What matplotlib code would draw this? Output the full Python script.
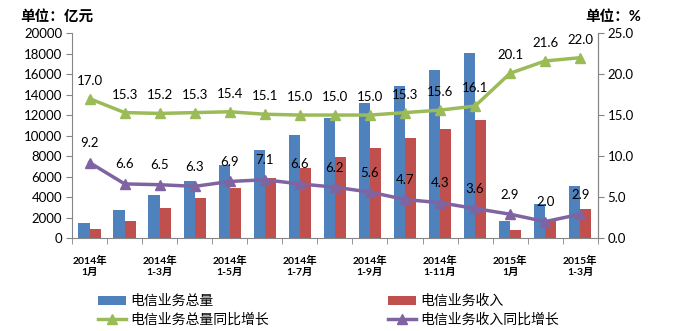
import matplotlib as mpl
mpl.rcParams['font.family'] = ['Lato', 'Noto Sans CJK SC', 'DejaVu Sans']
import matplotlib.pyplot as plt
from matplotlib.ticker import MultipleLocator, FixedLocator
import numpy as np

# Data
months = ['2014年\n1月', '2014年\n1-2月', '2014年\n1-3月', '2014年\n1-4月', '2014年\n1-5月',
          '2014年\n1-6月', '2014年\n1-7月', '2014年\n1-8月', '2014年\n1-9月', '2014年\n1-10月',
          '2014年\n1-11月', '2014年\n1-12月', '2015年\n1月', '2015年\n1-2月', '2015年\n1-3月']
volume = [1450, 2700, 4200, 5600, 7100, 8600, 10100, 11700, 13200, 14800, 16400, 18100, 1700, 3300, 5100]
revenue = [900, 1700, 2900, 3900, 4900, 5900, 6800, 7900, 8800, 9800, 10600, 11500, 800, 1700, 2800]
volume_growth = [17.0, 15.3, 15.2, 15.3, 15.4, 15.1, 15.0, 15.0, 15.0, 15.3, 15.6, 16.1, 20.1, 21.6, 22.0]
revenue_growth = [9.2, 6.6, 6.5, 6.3, 6.9, 7.1, 6.6, 6.2, 5.6, 4.7, 4.3, 3.6, 2.9, 2.0, 2.9]

blue = '#4F81BD'
red = '#C0504D'
green = '#9BBB59'
purple = '#8064A2'
gray = '#868686'

x = np.arange(len(months))
w = 0.32

fig = plt.figure(figsize=(6.8, 3.31), dpi=100)
ax = fig.add_axes([0.106, 0.281, 0.773, 0.619])
b1 = ax.bar(x - w/2, volume, width=w, color=blue, label='电信业务总量', zorder=2)
b2 = ax.bar(x + w/2, revenue, width=w, color=red, label='电信业务收入', zorder=2)
ax.set_xlim(-0.5, len(months) - 0.5)
ax.set_ylim(0, 20000)
ax.yaxis.set_major_locator(MultipleLocator(2000))
ax.set_xticks(x[::2])
ax.set_xticklabels(months[::2], fontsize=7.5, fontweight='bold', linespacing=1.25)
ax.xaxis.set_minor_locator(FixedLocator(np.arange(-0.5, len(months), 1)))
ax.tick_params(axis='x', which='major', length=0, pad=13)
ax.tick_params(axis='x', which='minor', length=4, color=gray, direction='out')
ax.tick_params(axis='y', length=4, color=gray, direction='out', labelsize=9.5, pad=3)
ax.spines['top'].set_visible(False)
for s in ['left', 'bottom', 'right']:
    ax.spines[s].set_color(gray)

ax2 = ax.twinx()
l1, = ax2.plot(x, volume_growth, '-^', color=green, lw=2.5, markersize=7.5, label='电信业务总量同比增长', zorder=3)
l2, = ax2.plot(x, revenue_growth, '-^', color=purple, lw=2.5, markersize=7.5, label='电信业务收入同比增长', zorder=3)
ax2.set_ylim(0, 25)
ax2.yaxis.set_major_locator(MultipleLocator(5))
ax2.yaxis.set_major_formatter(mpl.ticker.FormatStrFormatter('%.1f'))
ax2.tick_params(axis='y', length=4, color=gray, direction='out', labelsize=9.5, pad=3)
ax2.spines['top'].set_visible(False)
ax2.spines['right'].set_color(gray)
ax2.spines['left'].set_visible(False)
ax2.spines['bottom'].set_visible(False)

for xi, v in zip(x, volume_growth):
    ax2.annotate('%.1f' % v, (xi, v), xytext=(0, 13), textcoords='offset points',
                 ha='center', va='center', fontsize=9.5)
for xi, v in zip(x, revenue_growth):
    ax2.annotate('%.1f' % v, (xi, v), xytext=(0, 14), textcoords='offset points',
                 ha='center', va='center', fontsize=9.5)

fig.text(0.03, 0.95, '单位：亿元', fontsize=10.5, fontweight='bold', va='center')
fig.text(0.86, 0.95, '单位：%', fontsize=10.5, fontweight='bold', va='center')

fig.legend([b1, l1, b2, l2], ['电信业务总量', '电信业务总量同比增长', '电信业务收入', '电信业务收入同比增长'],
           ncol=2, loc='upper left', bbox_to_anchor=(0.144, 0.112), frameon=False,
           fontsize=10, columnspacing=8.6, handlelength=2.0, handletextpad=0.3,
           labelspacing=0.35, borderpad=0, borderaxespad=0)

plt.savefig('out.png', dpi=100)
